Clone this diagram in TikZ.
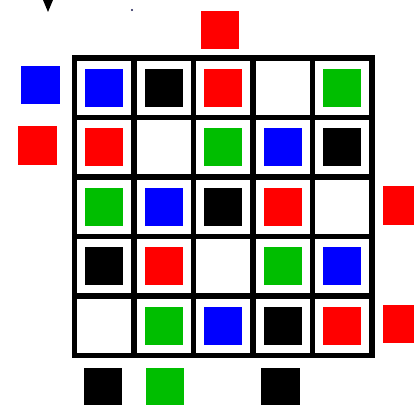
\documentclass[tikz,border=0pt]{standalone}

\definecolor{tileRed}{HTML}{FF0000}
\definecolor{tileBlue}{HTML}{0000FF}
\definecolor{tileGreen}{HTML}{00BE00}
\definecolor{dotNavy}{HTML}{1A1A50}

\begin{document}
\begin{tikzpicture}[x=0.025cm,y=-0.025cm,
  tile/.style={minimum size=0.95cm,inner sep=0pt,outer sep=0pt,draw=none},
  board/.style={line width=0.14cm,line cap=rect}]
  \useasboundingbox (0,0) rectangle (414,405);
  \clip (0,0) rectangle (414,405);

  % board lines
  \foreach \k in {0,...,5} {
    \draw[board] ({74.5+59.5*\k},58) -- ({74.5+59.5*\k},355.5);
    \draw[board] (74.5,{58+59.5*\k}) -- (372,{58+59.5*\k});
  }

  % tiles on the board
  \foreach \r/\c/\col in {1/1/tileBlue,1/2/black,1/3/tileRed,1/5/tileGreen,
      2/1/tileRed,2/3/tileGreen,2/4/tileBlue,2/5/black,
      3/1/tileGreen,3/2/tileBlue,3/3/black,3/4/tileRed,
      4/1/black,4/2/tileRed,4/4/tileGreen,4/5/tileBlue,
      5/2/tileGreen,5/3/tileBlue,5/4/black,5/5/tileRed} {
    \node[tile,fill=\col] (t\r\c) at ({74.5+59.5*(\c-0.5)},{58+59.5*(\r-0.5)}) {};
  }

  % tiles off the board
  \node[tile,fill=tileRed]   (top)    at (220,30.5) {};
  \node[tile,fill=tileBlue]  (left1)  at (40.5,85) {};
  \node[tile,fill=tileRed]   (left2)  at (37.5,145.5) {};
  \node[tile,fill=tileRed]   (right3) at (402,205.5) {};
  \node[tile,fill=tileRed]   (right5) at (402,324) {};
  \node[tile,fill=black]     (bot1)   at (103,387) {};
  \node[tile,fill=tileGreen] (bot2)   at (165,387) {};
  \node[tile,fill=black]     (bot4)   at (280.5,387) {};

  % marker and dot
  \fill[black] (43,0) -- (53,0) -- (48,12) -- cycle;
  \fill[dotNavy] (132,10) circle (1.2);
\end{tikzpicture}
\end{document}
